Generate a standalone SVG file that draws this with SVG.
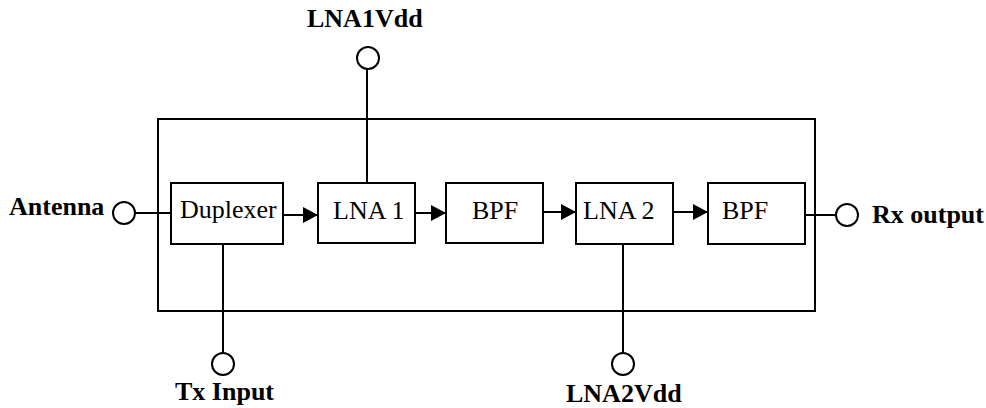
<svg xmlns="http://www.w3.org/2000/svg" width="986" height="408" viewBox="0 0 986 408">
<style>
.box{fill:#fff;stroke:#000;stroke-width:2}
.frame{fill:none;stroke:#000;stroke-width:2}
.ln{stroke:#000;stroke-width:2;fill:none}
.port{fill:#fff;stroke:#000;stroke-width:2}
.t{font-family:"Liberation Serif","Times New Roman",serif;font-size:26px;fill:#000}
.b{font-family:"Liberation Serif","Times New Roman",serif;font-size:26px;font-weight:bold;fill:#000}
</style>
<defs>
<marker id="ah" markerWidth="15" markerHeight="16" refX="15" refY="8" orient="auto" markerUnits="userSpaceOnUse">
<path d="M0,0 L15,8 L0,16 Z" fill="#000"/>
</marker>
</defs>
<rect id="module" class="frame" x="158" y="119" width="657" height="192"/>
<g id="connectors">
<line class="ln" x1="136" y1="213" x2="171" y2="213"/>
<line class="ln" x1="283" y1="215" x2="318" y2="215" marker-end="url(#ah)"/>
<line class="ln" x1="415" y1="213" x2="446" y2="213" marker-end="url(#ah)"/>
<line class="ln" x1="543" y1="212" x2="576" y2="212" marker-end="url(#ah)"/>
<line class="ln" x1="673" y1="212" x2="708" y2="212" marker-end="url(#ah)"/>
<line class="ln" x1="802" y1="215" x2="836" y2="215"/>
<line class="ln" x1="367" y1="69" x2="367" y2="183"/>
<line class="ln" x1="223" y1="244" x2="223" y2="353"/>
<line class="ln" x1="623" y1="244" x2="623" y2="353"/>
</g>
<g id="antenna">
<circle class="port" cx="124" cy="213" r="11"/>
<text class="b" x="9" y="215">Antenna</text>
</g>
<g id="duplexer">
<rect class="box" x="171" y="183" width="112" height="61"/>
<text class="t" x="180" y="218">Duplexer</text>
</g>
<g id="lna1">
<rect class="box" x="318" y="183" width="97" height="60"/>
<text class="t" x="333" y="219">LNA 1</text>
</g>
<g id="bpf1">
<rect class="box" x="446" y="183" width="97" height="60"/>
<text class="t" x="472" y="219">BPF</text>
</g>
<g id="lna2">
<rect class="box" x="576" y="183" width="97" height="61"/>
<text class="t" x="583" y="219">LNA 2</text>
</g>
<g id="bpf2">
<rect class="box" x="708" y="183" width="97" height="61"/>
<text class="t" x="722" y="219">BPF</text>
</g>
<g id="rxout">
<circle class="port" cx="847" cy="215" r="11"/>
<text class="b" x="872" y="223">Rx output</text>
</g>
<g id="lna1vdd">
<circle class="port" cx="368" cy="58" r="11"/>
<text class="b" x="307" y="27">LNA1Vdd</text>
</g>
<g id="txinput">
<circle class="port" cx="223" cy="364" r="11"/>
<text class="b" x="175" y="400">Tx Input</text>
</g>
<g id="lna2vdd">
<circle class="port" cx="623" cy="364" r="11"/>
<text class="b" x="566" y="402">LNA2Vdd</text>
</g>
</svg>
